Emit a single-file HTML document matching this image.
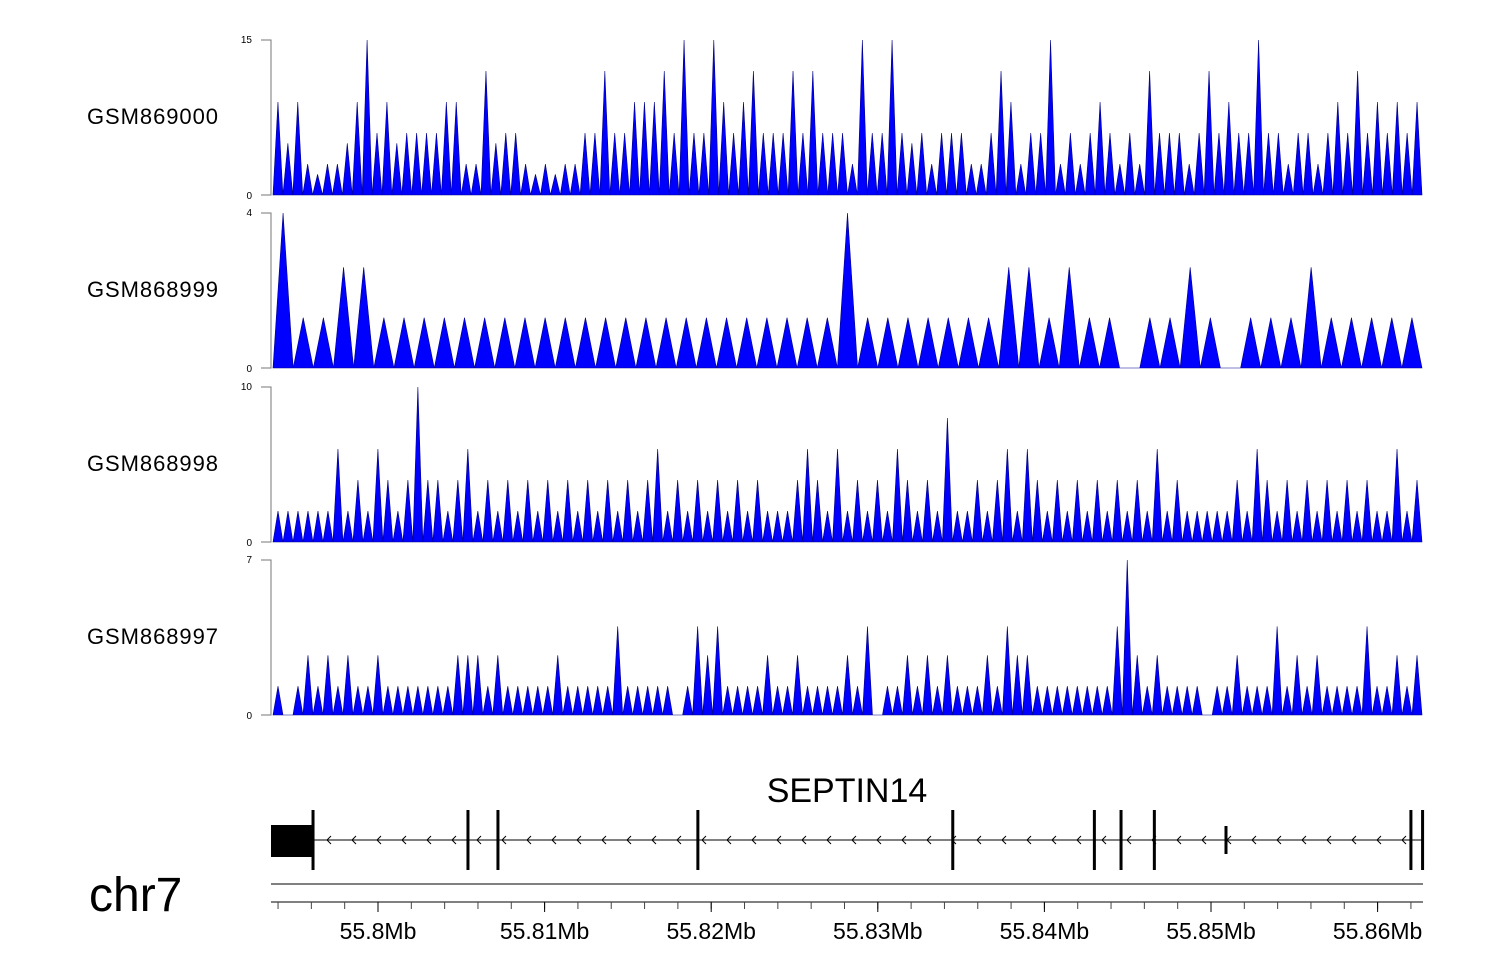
<!DOCTYPE html>
<html><head><meta charset="utf-8"><style>
body{margin:0;background:#fff;font-family:"Liberation Sans",sans-serif;}
svg{display:block}
</style></head><body>
<svg id="chart" width="1500" height="980" xmlns="http://www.w3.org/2000/svg" font-family="Liberation Sans, sans-serif"></svg>
<script>
const trackNames=["GSM869000","GSM868999","GSM868998","GSM868997"];
const trackMax=[15,4,10,7];
const t1=[9,5,9,3,2,3,3,5,9,15,6,9,5,6,6,6,6,9,9,3,3,12,5,6,6,3,2,3,2,3,3,6,6,12,6,6,9,9,9,12,6,15,6,6,15,9,6,9,12,6,6,6,12,6,12,6,6,6,3,15,6,6,15,6,5,6,3,6,6,6,3,3,6,12,9,3,6,6,15,3,6,3,6,9,6,3,6,3,12,6,6,6,3,6,12,6,9,6,6,15,6,6,3,6,6,3,6,9,6,12,6,9,6,9,6,9];
const t2=[4,1.3,1.3,2.6,2.6,1.3,1.3,1.3,1.3,1.3,1.3,1.3,1.3,1.3,1.3,1.3,1.3,1.3,1.3,1.3,1.3,1.3,1.3,1.3,1.3,1.3,1.3,1.3,4,1.3,1.3,1.3,1.3,1.3,1.3,1.3,2.6,2.6,1.3,2.6,1.3,1.3,0,1.3,1.3,2.6,1.3,0,1.3,1.3,1.3,2.6,1.3,1.3,1.3,1.3,1.3];
const t3=[2,2,2,2,2,2,6,2,4,2,6,4,2,4,10,4,4,2,4,6,2,4,2,4,2,4,2,4,2,4,2,4,2,4,2,4,2,4,6,2,4,2,4,2,4,2,4,2,4,2,2,2,4,6,4,2,6,2,4,2,4,2,6,4,2,4,2,8,2,2,4,2,4,6,2,6,4,2,4,2,4,2,4,2,4,2,4,2,6,2,4,2,2,2,2,2,4,2,6,4,2,4,2,4,2,4,2,4,2,4,2,2,6,2,4];
const t4=[1.3,0,1.3,2.7,1.3,2.7,1.3,2.7,1.3,1.3,2.7,1.3,1.3,1.3,1.3,1.3,1.3,1.3,2.7,2.7,2.7,1.3,2.7,1.3,1.3,1.3,1.3,1.3,2.7,1.3,1.3,1.3,1.3,1.3,4,1.3,1.3,1.3,1.3,1.3,0,1.3,4,2.7,4,1.3,1.3,1.3,1.3,2.7,1.3,1.3,2.7,1.3,1.3,1.3,1.3,2.7,1.3,4,0,1.3,1.3,2.7,1.3,2.7,1.3,2.7,1.3,1.3,1.3,2.7,1.3,4,2.7,2.7,1.3,1.3,1.3,1.3,1.3,1.3,1.3,1.3,4,7,2.7,1.3,2.7,1.3,1.3,1.3,1.3,0,1.3,1.3,2.7,1.3,1.3,1.3,4,1.3,2.7,1.3,2.7,1.3,1.3,1.3,1.3,4,1.3,1.3,2.7,1.3,2.7];
const trackData=[t1,t2,t3,t4];
const exonsKb=[55.7961,55.8054,55.8072,55.8192,55.8345,55.8430,55.8446,55.8466,55.8509,55.8620,55.8627];
const axisTicksMb=[55.80,55.81,55.82,55.83,55.84,55.85,55.86];

const NS="http://www.w3.org/2000/svg";
const svg=document.getElementById('chart');
function mk(t,a,p){const e=document.createElementNS(NS,t);for(const k in a)e.setAttribute(k,a[k]);(p||svg).appendChild(e);return e;}
const X0=271,X1=1423;
const tops=[40,213,387,560],H=155;
const xg=mb=>378+(mb-55.8)*16660;
trackData.forEach((vals,ti)=>{
  const g=mk('g',{});
  
  
  const top=tops[ti],base=top+H;
  const y=v=>base-v/trackMax[ti]*H;
  const step=(X1-X0-3)/vals.length;
  let pts=[[X0+2,base]];
  vals.forEach((v,i)=>{const cx=X0+2+(i+0.5)*step;pts.push([cx,y(v)]);pts.push([cx+step/2,base]);});
  const poly=mk('polygon',{points:pts.map(p=>p.join(',')).join(' '),fill:'#0000ff',stroke:'#000088','stroke-width':0.6},g);
  
  
  mk('path',{d:`M${X0-10},${top}H${X0}V${base}H${X0-10}`,fill:'none',stroke:'#777','stroke-width':1},g);
  const tl=mk('text',{x:X0-19,y:top+3,'font-size':10,'text-anchor':'end'},g);tl.textContent=trackMax[ti];
  const bl=mk('text',{x:X0-19,y:base+4,'font-size':10,'text-anchor':'end'},g);bl.textContent='0';
  const nm=mk('text',{x:87,y:top+84,'font-size':22,textLength:131},g);nm.textContent=trackNames[ti];
  
  
});
const gg=mk('g',{});


const gl=mk('text',{x:847,y:802,'font-size':34,'text-anchor':'middle'},gg);gl.textContent='SEPTIN14';
mk('line',{x1:X0,x2:X1,y1:840,y2:840,stroke:'#000','stroke-width':1},gg);
for(let x=327;x<1420;x+=25){mk('path',{d:`M${x+4},836L${x},840L${x+4},844`,fill:'none',stroke:'#000','stroke-width':1},gg);}
mk('rect',{x:271,y:825,width:42,height:32,fill:'#000'},gg);
exonsKb.forEach((mb,i)=>{const x=xg(mb);const h=i==8?14:30;mk('rect',{x:x-1.5,y:840-h,width:3,height:2*h,fill:'#000'},gg);});
const ag=mk('g',{});


mk('line',{x1:X0,x2:X1,y1:884,y2:884,stroke:'#000'},ag);
mk('line',{x1:X0,x2:X1,y1:902,y2:902,stroke:'#000'},ag);
for(let mb=55.7940;mb<55.8628;mb+=0.002){const x=xg(mb);mk('line',{x1:x,x2:x,y1:902,y2:909,stroke:'#444'},ag);}
axisTicksMb.forEach(mb=>{const x=xg(mb);mk('line',{x1:x,x2:x,y1:902,y2:912,stroke:'#000'},ag);
  const t=mk('text',{x:x,y:939,'font-size':23,'text-anchor':'middle'},ag);t.textContent=mb.toFixed(2).replace(/0$/,'')+'Mb';});
const chr=mk('text',{x:89,y:911,'font-size':48},svg);chr.textContent='chr7';


</script>
</body></html>
